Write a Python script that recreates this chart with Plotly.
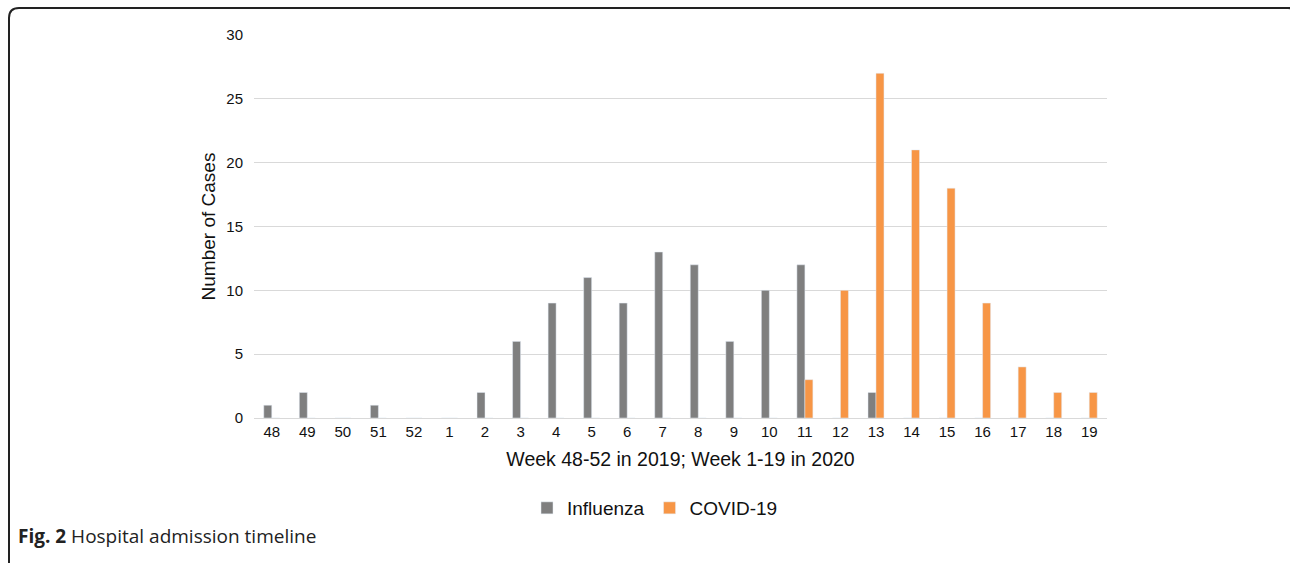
import plotly.graph_objects as go

weeks = ["48", "49", "50", "51", "52", "1", "2", "3", "4", "5", "6", "7", "8", "9",
         "10", "11", "12", "13", "14", "15", "16", "17", "18", "19"]
influenza = [1, 2, 0, 1, 0, 0, 2, 6, 9, 11, 9, 13, 12, 6, 10, 12, 0, 2, 0, 0, 0, 0, 0, 0]
covid = [0, 0, 0, 0, 0, 0, 0, 0, 0, 0, 0, 0, 0, 0, 0, 3, 10, 27, 21, 18, 9, 4, 2, 2]
y_ticks = [0, 5, 10, 15, 20, 25, 30]

W, H = 1290, 563
ML, MR, MT, MB = 254, 183, 35, 145
PW, PH = W - ML - MR, H - MT - MB


def px(x):
    return (x - ML) / PW


def py(y):
    return (H - MB - y) / PH


FONT = "Liberation Sans, Arial, sans-serif"

fig = go.Figure()
fig.add_trace(go.Bar(x=weeks, y=influenza, name="Influenza", marker_color="#7f7f7f"))
fig.add_trace(go.Bar(x=weeks, y=covid, name="COVID-19", marker_color="#f79646"))

# rounded frame around the figure
r = 10
x0, x1, y0, y1 = 9, 1298, 8, 572
path = (f"M {px(x0)},{py(y0 + r)} Q {px(x0)},{py(y0)} {px(x0 + r)},{py(y0)} "
        f"L {px(x1 - r)},{py(y0)} Q {px(x1)},{py(y0)} {px(x1)},{py(y0 + r)} "
        f"L {px(x1)},{py(y1 - r)} Q {px(x1)},{py(y1)} {px(x1 - r)},{py(y1)} "
        f"L {px(x0 + r)},{py(y1)} Q {px(x0)},{py(y1)} {px(x0)},{py(y1 - r)} Z")

fig.update_layout(
    width=W, height=H,
    margin=dict(l=ML, r=MR, t=MT, b=MB),
    paper_bgcolor="white", plot_bgcolor="white",
    barmode="group", bargap=0.55, bargroupgap=0.0,
    font=dict(family=FONT, color="#111", size=15),
    xaxis=dict(
        type="category", showgrid=False, showline=True, linecolor="#d9d9d9",
        linewidth=1, ticks="", tickfont=dict(size=15, family=FONT),
        title=dict(text="Week 48-52 in 2019; Week 1-19 in 2020",
                   font=dict(size=19.5, family=FONT), standoff=13),
    ),
    yaxis=dict(
        range=[0, 30], tickvals=y_ticks, showgrid=True, gridcolor="#d9d9d9",
        zeroline=False, showline=False, ticks="", ticklabelstandoff=10,
        tickfont=dict(size=15, family=FONT),
        title=dict(text="Number of Cases", font=dict(size=19, family=FONT), standoff=5),
    ),
    legend=dict(
        orientation="h", x=px(655), xanchor="center", y=py(508), yanchor="middle",
        font=dict(size=19, family=FONT), itemwidth=30, traceorder="normal",
    ),
    shapes=[dict(type="path", path=path, xref="paper", yref="paper",
                 line=dict(color="#222", width=2))],
    annotations=[dict(
        text="<b>Fig. 2</b> Hospital admission timeline", xref="paper", yref="paper",
        x=px(16), y=py(536), xanchor="left", yanchor="middle", showarrow=False,
        font=dict(size=19, family="Open Sans, Noto Sans, sans-serif", color="#222"),
    )],
)

fig.write_html("out.html")
